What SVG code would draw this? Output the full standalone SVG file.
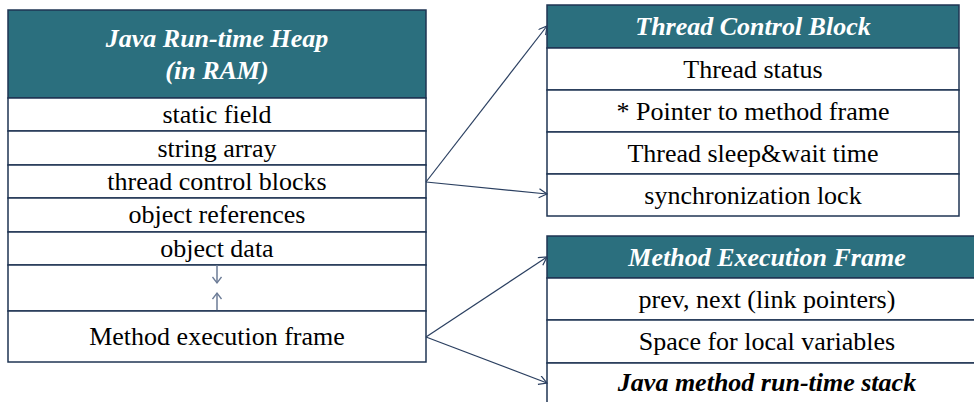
<svg xmlns="http://www.w3.org/2000/svg" width="974" height="402" viewBox="0 0 974 402" font-family="Liberation Serif, Tinos, Times New Roman, DejaVu Serif, serif" font-size="26">
<style>
.hdr{fill:#2b6f7e;stroke:#1f3553;stroke-width:1.5}
.row{fill:#ffffff;stroke:#1f3553;stroke-width:1.5}
.ht{font-weight:bold;font-style:italic;fill:#ffffff;text-anchor:middle}
.t{fill:#000000;text-anchor:middle}
.tb{font-weight:bold;font-style:italic;fill:#000000;text-anchor:middle}
.conn{fill:none;stroke:#2a3f60;stroke-width:1.2}
.inner{fill:none;stroke:#6b7b96;stroke-width:1.5}
</style>
<defs>
<marker id="ah" markerUnits="userSpaceOnUse" markerWidth="12" markerHeight="12" refX="9" refY="5" orient="auto">
<path d="M1,0.5 L9,5 L1,9.5" fill="none" stroke="#2a3f60" stroke-width="1.2"/>
</marker>
<marker id="ahs" markerUnits="userSpaceOnUse" markerWidth="12" markerHeight="12" refX="7" refY="5" orient="auto">
<path d="M1,0.5 L7,5 L1,9.5" fill="none" stroke="#6b7b96" stroke-width="1.3"/>
</marker>
</defs>

<g id="heap">
<rect class="hdr" x="8" y="10" width="418" height="88"/>
<text class="ht" x="217" y="47">Java Run-time Heap</text>
<text class="ht" x="217" y="79">(in RAM)</text>
<rect class="row" x="8" y="98" width="418" height="33"/>
<text class="t" x="217" y="123">static field</text>
<rect class="row" x="8" y="131" width="418" height="34"/>
<text class="t" x="217" y="157">string array</text>
<rect class="row" x="8" y="165" width="418" height="33"/>
<text class="t" x="217" y="190">thread control blocks</text>
<rect class="row" x="8" y="198" width="418" height="34"/>
<text class="t" x="217" y="223">object references</text>
<rect class="row" x="8" y="232" width="418" height="33"/>
<text class="t" x="217" y="257">object data</text>
<rect class="row" x="8" y="265" width="418" height="46"/>
<line class="inner" x1="217" y1="265" x2="217" y2="283" marker-end="url(#ahs)"/>
<line class="inner" x1="217" y1="311" x2="217" y2="293" marker-end="url(#ahs)"/>
<rect class="row" x="8" y="311" width="418" height="51"/>
<text class="t" x="217" y="345">Method execution frame</text>
</g>

<g id="tcb">
<rect class="hdr" x="547" y="5" width="412" height="43"/>
<text class="ht" x="753" y="35">Thread Control Block</text>
<rect class="row" x="547" y="48" width="412" height="42"/>
<text class="t" x="753" y="78">Thread status</text>
<rect class="row" x="547" y="90" width="412" height="42"/>
<text class="t" x="753" y="120">* Pointer to method frame</text>
<rect class="row" x="547" y="132" width="412" height="42"/>
<text class="t" x="753" y="162">Thread sleep&amp;wait time</text>
<rect class="row" x="547" y="174" width="412" height="42"/>
<text class="t" x="753" y="204">synchronization lock</text>
</g>

<g id="mef">
<rect class="hdr" x="547" y="236" width="440" height="42"/>
<text class="ht" x="767" y="266">Method Execution Frame</text>
<rect class="row" x="547" y="278" width="440" height="42"/>
<text class="t" x="767" y="308">prev, next (link pointers)</text>
<rect class="row" x="547" y="320" width="440" height="43"/>
<text class="t" x="767" y="350">Space for local variables</text>
<rect class="row" x="547" y="363" width="440" height="50"/>
<text class="tb" x="767" y="391">Java method run-time stack</text>
</g>

<g id="connectors">
<line class="conn" x1="426" y1="182" x2="547" y2="26" marker-end="url(#ah)"/>
<line class="conn" x1="426" y1="182" x2="547" y2="194" marker-end="url(#ah)"/>
<line class="conn" x1="426" y1="337" x2="547" y2="257" marker-end="url(#ah)"/>
<line class="conn" x1="426" y1="337" x2="547" y2="383" marker-end="url(#ah)"/>
</g>
</svg>
